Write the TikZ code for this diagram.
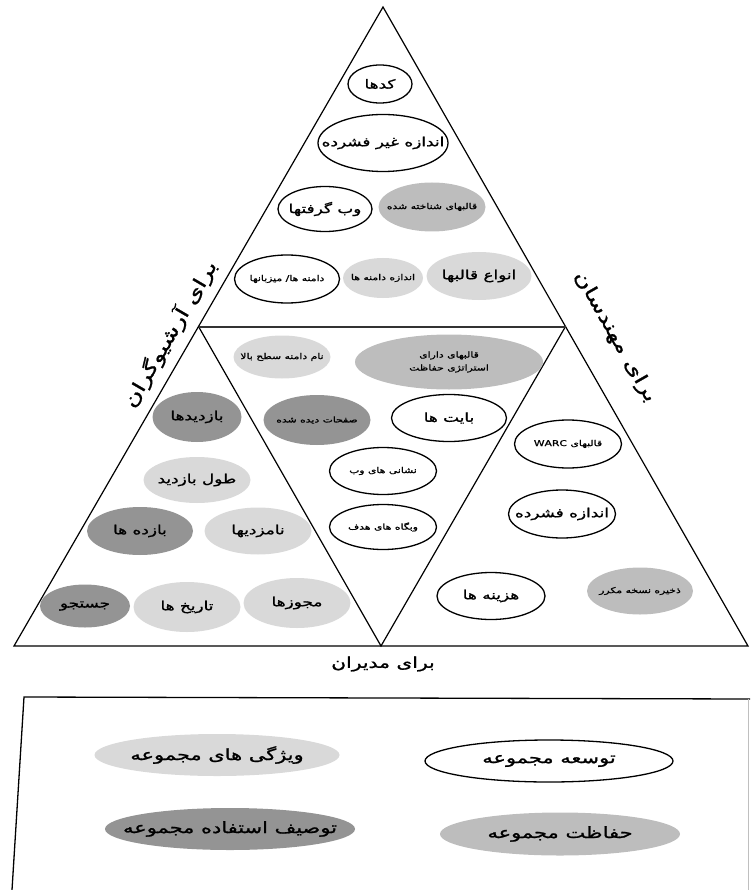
\documentclass[tikz,border=0pt]{standalone}
\usepackage{fontspec}
\usetikzlibrary{shapes.geometric}
\TeXXeTstate=1
\newfontfamily\arabicfont[Script=Arabic, FakeStretch=1.35, FakeBold=1.2]{DejaVu Sans}
\newcommand{\fatxt}[1]{\beginR #1\endR}
\newcommand{\fabox}[1]{\makebox[0pt]{\beginR #1\endR}}
\begin{document}
\begin{tikzpicture}[x=1pt,y=-1pt,
  bub/.style={ellipse, inner sep=0pt, font=\arabicfont\fontsize{12.5}{14}\selectfont},
  sz/.style 2 args={minimum width=#1pt, minimum height=#2pt},
  bubdev/.style={bub, draw=black, line width=1.3pt, fill=white},
  bubchr/.style={bub, fill=black!15},
  bubpres/.style={bub, fill=black!26},
  bubuse/.style={bub, fill=black!42},
  sm/.style={font=\arabicfont\fontsize{8}{10}\selectfont},
  lab/.style={font=\arabicfont\fontsize{18.5}{20}\selectfont, inner sep=0pt},
  leg/.style={font=\arabicfont\fontsize{15.5}{18}\selectfont},
  frame/.style={line width=1.2pt, line join=miter}]
\useasboundingbox (0,0) rectangle (750,890);
% pyramid
\coordinate (A) at (383,7);
\coordinate (L) at (14,646);
\coordinate (R) at (748,646);
\coordinate (ML) at (198.5,326.5);
\coordinate (MR) at (565.5,326.5);
\coordinate (MB) at (381,646);
\draw[frame] (A) -- (R) -- (L) -- cycle;
\draw[frame] (ML) -- (MB) -- (MR);
\draw[line width=2pt, black!80] (ML) -- (MR);
% top triangle
\node[bubdev, sz={64}{38}] (codes) at (380,84) {\fabox{کدها}};
\node[bubdev, sz={130}{57}] (usize) at (383,143) {\fabox{اندازه غیر فشرده}};
\node[bubdev, sz={94}{45}] (crawls) at (325,209) {\fabox{وب گرفتها}};
\node[bubpres, sm, sz={107}{49}] (known) at (432,207) {\fabox{قالبهای شناخته شده}};
\node[bubdev, sm, sz={105}{48}] (hosts) at (287,279) {\fabox{دامنه ها/ میزبانها}};
\node[bubchr, sm, sz={80}{40}] (dsize) at (383,278) {\fabox{اندازه دامنه ها}};
\node[bubchr, sz={105}{48}] (ftypes) at (479,276) {\fabox{انواع قالبها}};
% middle triangle
\node[bubchr, sm, sz={97}{43}] (tld) at (282,357) {\fabox{نام دامنه سطح بالا}};
\node[bubpres, sm, sz={188}{55}, align=center] (pform) at (449,362) {\fabox{قالبهای دارای}\\[3pt]\fabox{استراتژی حفاظت}};
\node[bubuse, sm, sz={107}{50}] (pviews) at (317,420) {\fabox{صفحات دیده شده}};
\node[bubdev, sz={115}{47}] (bytes) at (449,418) {\fabox{بایت ها}};
\node[bubdev, sm, sz={107}{47}] (urls) at (383,471) {\fabox{نشانی های وب}};
\node[bubdev, sm, sz={107}{45}] (sites) at (383,527) {\fabox{وبگاه های هدف}};
% left triangle
\node[bubuse, sz={89}{50}] (visits) at (197,417) {\fabox{بازدیدها}};
\node[bubchr, sz={107}{46}] (vlen) at (197,480) {\fabox{طول بازدید}};
\node[bubuse, sz={106}{48}] (hits) at (140,531) {\fabox{بازده ها}};
\node[bubchr, sz={107}{47}] (noms) at (258,531) {\fabox{نامزدیها}};
\node[bubuse, sz={90}{43}] (search) at (85,606) {\fabox{جستجو}};
\node[bubchr, sz={107}{50}] (dates) at (187,607) {\fabox{تاریخ ها}};
\node[bubchr, sz={107}{50}] (perms) at (297,603) {\fabox{مجوزها}};
% right triangle
\node[bubdev, sm, sz={107}{48}] (warc) at (568,444) {\fabox{قالبهای \beginL WARC\endL}};
\node[bubdev, sz={107}{48}] (csize) at (562,514) {\fabox{اندازه فشرده}};
\node[bubdev, sz={108}{47}] (costs) at (491,596) {\fabox{هزینه ها}};
\node[bubpres, sm, sz={106}{47}] (dup) at (640,591) {\fabox{ذخیره نسخه مکرر}};
% side labels
\node[lab, rotate=59.7] (larch) at (170,334) {\fatxt{برای آرشیوگران}};
\node[lab, rotate=-60.3] (leng) at (615,337) {\fatxt{برای مهندسان}};
\node[lab, font=\arabicfont\fontsize{15}{16}\selectfont] (lman) at (383,664) {\fatxt{برای مدیران}};
% legend
\draw[line width=1.3pt] (12,890) -- (24,697) -- (750,699);
\draw[black!25, line width=0.6pt] (748,699) -- (748,890);
\node[bubchr, leg, sz={245}{42}] (kchr) at (217,755) {\fabox{ویژگی های مجموعه}};
\node[bubdev, leg, sz={248}{42}] (kdev) at (549,761) {\fabox{توسعه مجموعه}};
\node[bubuse, leg, sz={250}{42}] (kuse) at (230,829) {\fabox{توصیف استفاده مجموعه}};
\node[bubpres, leg, sz={240}{43}] (kpres) at (560,834) {\fabox{حفاظت مجموعه}};
\end{tikzpicture}
\end{document}
